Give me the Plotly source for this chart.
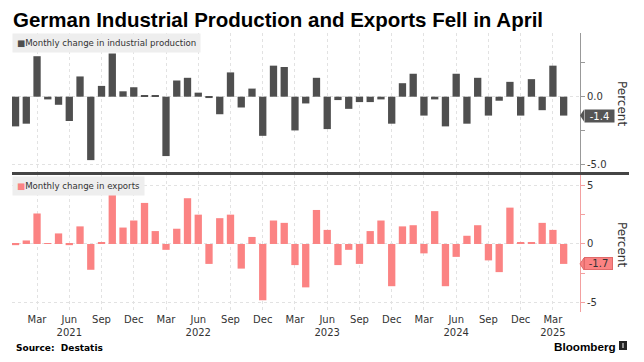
import pandas as pd
import plotly.graph_objects as go

months = list(pd.date_range("2021-01-01", "2025-04-01", freq="MS").strftime("%Y-%m"))

industrial_production = [
    -2.2, -2.0, 3.0, -0.2, -0.6, -1.8, 1.5, -4.7, 0.8, 3.2, 0.4, 0.7,
    0.1, 0.1, -4.4, 1.2, 1.4, 0.3, -0.1, -1.3, 1.8, -0.8, 0.6, -2.9,
    2.3, 2.2, -2.5, -0.5, 1.4, -2.4, -0.25, -0.9, -0.4, -0.4, -0.2, -2.0,
    1.0, 1.7, -1.4, -0.2, -2.2, 1.7, -2.0, 1.4, -1.4, -0.3, 1.1, -1.4,
    1.3, -1.0, 2.3, -1.4,
]

exports = [
    -0.1, 0.3, 2.6, 0.05, 0.9, -0.1, 1.5, -2.2, 0.1, 4.2, 1.4, 2.0,
    3.5, 1.1, -0.5, 1.3, 3.9, 2.5, -1.7, 2.2, 2.5, -2.1, 0.6, -4.8,
    2.0, 1.8, -1.8, -3.7, 2.9, 1.2, -1.8, -0.5, -1.7, 1.1, 2.0, -3.6,
    1.5, 1.6, -0.8, 2.8, -3.6, -1.1, 0.7, 1.6, -1.4, -2.4, 3.1, 0.1,
    0.1, 1.8, 1.2, -1.7,
]

tick_vals = ["2021-03", "2021-06", "2021-09", "2021-12", "2022-03", "2022-06", "2022-09",
             "2022-12", "2023-03", "2023-06", "2023-09", "2023-12", "2024-03", "2024-06",
             "2024-09", "2024-12", "2025-03"]
tick_text = ["Mar", "Jun<br>2021", "Sep", "Dec", "Mar", "Jun<br>2022", "Sep",
             "Dec", "Mar", "Jun<br>2023", "Sep", "Dec", "Mar", "Jun<br>2024",
             "Sep", "Dec", "Mar<br>2025"]

title_text = "German Industrial Production and Exports Fell in April"
ip_label = "Monthly change in industrial production"
ex_label = "Monthly change in exports"
source_text = "Source:  Destatis"

IP_COLOR = "#4f4f4f"
EX_COLOR = "#fb8383"
FONT = "DejaVu Sans"

fig = go.Figure()
fig.add_trace(go.Bar(x=months, y=industrial_production, marker_color=IP_COLOR,
                     marker_line_width=0, xaxis="x2", yaxis="y2", name=ip_label,
                     showlegend=False))
fig.add_trace(go.Bar(x=months, y=exports, marker_color=EX_COLOR,
                     marker_line_width=0, xaxis="x", yaxis="y", name=ex_label,
                     showlegend=False))

xcommon = dict(type="category", categoryorder="array", categoryarray=months,
               range=[-0.33, 52.52], tickvals=tick_vals, showgrid=True,
               gridcolor="#e2e2e2", griddash="dot", gridwidth=1, zeroline=False,
               showline=False, ticks="", automargin=False)

fig.update_layout(
    width=644, height=362,
    margin=dict(l=12, r=64, t=33, b=50),
    paper_bgcolor="white", plot_bgcolor="white",
    bargap=0.32,
    font=dict(family=FONT, size=10, color="#333333"),
    xaxis=dict(**xcommon, ticktext=tick_text, tickfont=dict(size=10, color="#333333"),
               domain=[0, 1], anchor="y"),
    xaxis2=dict(**xcommon, showticklabels=False, matches="x", anchor="y2"),
    yaxis=dict(domain=[0, 0.491], side="right", range=[-5.80, 5.88],
               tickvals=[-5, 0, 5], ticktext=["-5", "0", "5"],
               ticks="outside", ticklen=4, tickcolor="#f3a0a0",
               showline=True, linecolor="#f3a0a0", linewidth=1,
               showgrid=True, gridcolor="#e2e2e2", griddash="dot", zeroline=False,
               minor=dict(tickvals=[-2.5, 2.5], ticks="outside", ticklen=4,
                          tickcolor="#f3a0a0", showgrid=False),
               tickfont=dict(size=10, color="#333333"), anchor="x", automargin=False),
    yaxis2=dict(domain=[0.5018, 1], side="right", range=[-5.58, 4.72],
                tickvals=[-5, 0], ticktext=["-5.0", "0.0"],
                ticks="outside", ticklen=4, tickcolor="#999999",
                showline=True, linecolor="#999999", linewidth=1,
                showgrid=True, gridcolor="#e2e2e2", griddash="dot", zeroline=False,
                minor=dict(tickvals=[-2.5, 2.5], ticks="outside", ticklen=4,
                           tickcolor="#999999", showgrid=False),
                tickfont=dict(size=10, color="#333333"), anchor="x2", automargin=False),
    showlegend=False,
)

# paper coordinate helpers (plot area: x 12..580 px, y 33..312 px)
def px_x(px):
    return (px - 12) / 568.0

def px_y(py):
    return (312 - py) / 279.0

annotations = [
    dict(text="<b>" + title_text + "</b>", xref="paper", yref="paper",
         x=px_x(11), y=px_y(20), xanchor="left", yanchor="middle", showarrow=False,
         font=dict(family="Liberation Sans", size=20.5, color="#000000")),
    dict(text=f"<span style='color:{IP_COLOR}'>■</span>" + ip_label,
         xref="paper", yref="paper", x=0, y=1, xanchor="left", yanchor="top",
         showarrow=False, bgcolor="#eeeeee", borderpad=4,
         font=dict(family=FONT, size=8.6, color="#333333")),
    dict(text=f"<span style='color:{EX_COLOR}'>■</span>" + ex_label,
         xref="paper", yref="paper", x=0, y=px_y(176), xanchor="left", yanchor="top",
         showarrow=False, bgcolor="#eeeeee", borderpad=4,
         font=dict(family=FONT, size=8.6, color="#333333")),
    dict(text="Percent", xref="paper", yref="paper", x=px_x(622), y=px_y(103),
         textangle=90, showarrow=False, xanchor="center", yanchor="middle",
         font=dict(family=FONT, size=12, color="#333333")),
    dict(text="Percent", xref="paper", yref="paper", x=px_x(622), y=px_y(244),
         textangle=90, showarrow=False, xanchor="center", yanchor="middle",
         font=dict(family=FONT, size=12, color="#333333")),
    dict(text=f"{industrial_production[-1]:.1f}", xref="paper", yref="y2",
         x=px_x(584), y=industrial_production[-1], xanchor="left", yanchor="middle",
         showarrow=False, bgcolor="#555555", width=29, height=12, borderpad=0,
         font=dict(family=FONT, size=10, color="white")),
    dict(text=f"{exports[-1]:.1f}", xref="paper", yref="y",
         x=px_x(584), y=exports[-1], xanchor="left", yanchor="middle",
         showarrow=False, bgcolor=EX_COLOR, bordercolor="#e06a6a", borderwidth=1,
         width=27, height=11, borderpad=0,
         font=dict(family=FONT, size=10, color="#333333")),
    dict(text="<b>" + source_text + "</b>", xref="paper", yref="paper",
         x=px_x(14), y=px_y(348), xanchor="left", yanchor="middle", showarrow=False,
         font=dict(family=FONT, size=9, color="#000000")),
    dict(text="<b>Bloomberg</b>", xref="paper", yref="paper",
         x=px_x(552), y=px_y(346), xanchor="left", yanchor="middle", showarrow=False,
         font=dict(family="Liberation Sans", size=11.7, color="#000000")),
]
fig.update_layout(annotations=annotations)

shapes = [
    # separator between panels
    dict(type="line", xref="paper", yref="paper", x0=0, x1=px_x(629),
         y0=px_y(173.5), y1=px_y(173.5), line=dict(color="#454545", width=3)),
    # arrow tips of the value labels
    dict(type="path", xref="paper", yref="y2", xsizemode="pixel", ysizemode="pixel",
         xanchor=1, yanchor=industrial_production[-1],
         path="M 0,0 L 4,6 L 4,-6 Z", fillcolor="#555555", line=dict(width=0)),
    dict(type="path", xref="paper", yref="y", xsizemode="pixel", ysizemode="pixel",
         xanchor=1, yanchor=exports[-1],
         path="M 0,0 L 4,6 L 4,-6 Z", fillcolor=EX_COLOR,
         line=dict(width=1, color="#e06a6a")),
    # Bloomberg logo mark
    dict(type="rect", xref="paper", yref="paper", x0=px_x(619), x1=px_x(627),
         y0=px_y(350), y1=px_y(341), fillcolor="#222222", line=dict(width=0)),
    dict(type="line", xref="paper", yref="paper", x0=px_x(623), x1=px_x(623),
         y0=px_y(348), y1=px_y(343), line=dict(color="white", width=1)),
]
fig.update_layout(shapes=shapes)

fig.write_html("out.html", config={"displayModeBar": False},
               post_script="document.body.style.margin='0';")
